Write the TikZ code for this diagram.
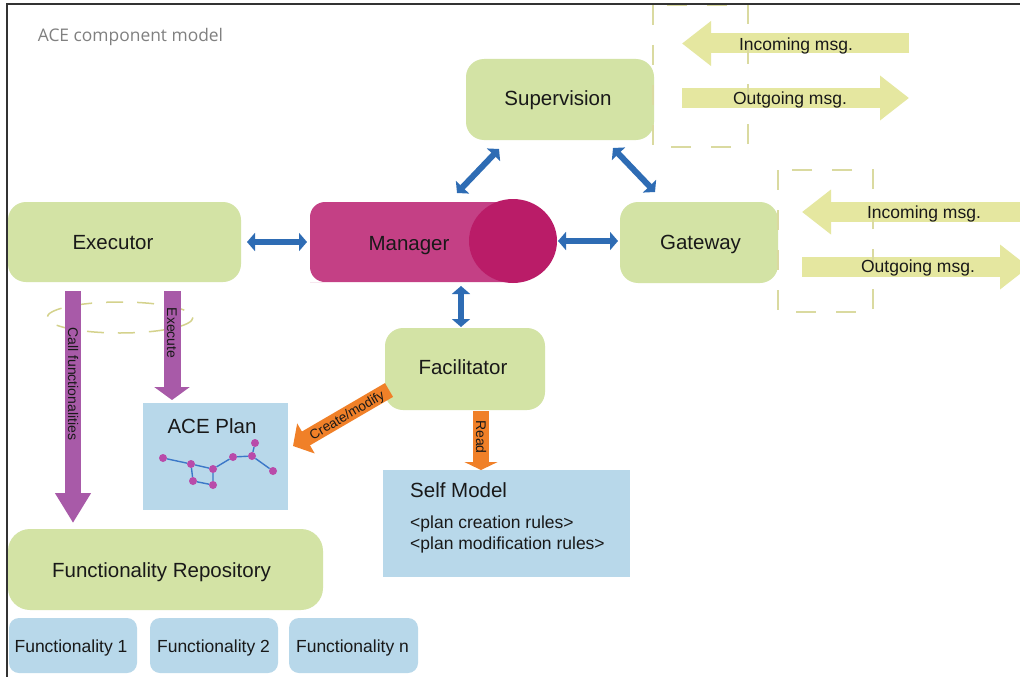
\documentclass[tikz,border=0pt]{standalone}
\usepackage{fontspec}
\setmainfont{Liberation Sans}
\newfontfamily\titlefont{Open Sans}
\usetikzlibrary{arrows.meta,calc}
\definecolor{gfill}{RGB}{211,227,165}
\definecolor{bfill}{RGB}{184,216,234}
\definecolor{barrowc}{RGB}{46,108,180}
\definecolor{mgpink}{RGB}{196,64,133}
\definecolor{mgdark}{RGB}{186,28,104}
\definecolor{purp}{RGB}{168,90,168}
\definecolor{orng}{RGB}{240,128,40}
\definecolor{yell}{RGB}{229,231,160}
\definecolor{dashc}{RGB}{218,218,160}
\definecolor{ellc}{RGB}{212,210,140}
\definecolor{txt}{RGB}{25,25,25}
\definecolor{dotc}{RGB}{185,75,170}
\definecolor{edgec}{RGB}{60,120,200}
\begin{document}
\begin{tikzpicture}[x=1pt,y=-1pt,
  gbox/.style={fill=gfill, rounded corners=18pt, inner sep=0pt, outer sep=0pt},
  fbox/.style={fill=bfill, rounded corners=10pt, inner sep=0pt, outer sep=0pt},
  pbox/.style={fill=bfill, inner sep=0pt, outer sep=0pt},
  lbl/.style={font=\fontsize{20.5}{24}\selectfont, text=txt, inner sep=0pt, text height=14.8pt, text depth=0pt},
  mlbl/.style={font=\fontsize{17.5}{21}\selectfont, text=txt, inner sep=0pt, text height=12.6pt, text depth=0pt},
  slbl/.style={font=\fontsize{14}{17}\selectfont, text=txt, inner sep=0pt, text height=10pt, text depth=0pt},
  barrow/.style={draw=barrowc, line width=6pt, {Triangle[length=8pt,width=18pt]}-{Triangle[length=8pt,width=18pt]}},
  parrow/.style={draw=purp, line width=16.5pt},
  oarrow/.style={draw=orng, line width=15.5pt},
  yarrow/.style={draw=yell, line width=20pt, -{Triangle[length=29pt,width=43pt]}},
  dbox/.style={draw=dashc, line width=1.5pt, dash pattern=on 20pt off 20pt},
  gdot/.style={circle, fill=dotc, inner sep=0pt, minimum size=8pt},
  gedge/.style={draw=edgec, line width=1.4pt}
]
\useasboundingbox (0,0) rectangle (1020,677);
\clip (0,0) rectangle (1020,677);
\fill[white] (0,0) rectangle (1020,677);

% title
\node[font=\titlefont\fontsize{17.4}{20}\selectfont, text=black!50, inner sep=0pt, text height=12.4pt, text depth=0pt] (title) at (130.5,35.5) {ACE component model};

% yellow message arrows
\coordinate (si1) at (909,43.5); \coordinate (si2) at (682,43.5);
\coordinate (so1) at (682,98);   \coordinate (so2) at (909,98);
\coordinate (gi1) at (1032,212); \coordinate (gi2) at (802,212);
\coordinate (go1) at (802,267);  \coordinate (go2) at (1029,267);
\draw[yarrow] (si1) -- (si2);
\draw[yarrow] (so1) -- (so2);
\draw[yarrow] (gi1) -- (gi2);
\draw[yarrow] (go1) -- (go2);

% boxes
\node[gbox, minimum width=188pt, minimum height=81pt] (sup) at (560,99.5) {};
\node[gbox, minimum width=233pt, minimum height=80pt] (exec) at (124.5,242) {};
\node[gbox, minimum width=158pt, minimum height=81pt] (gate) at (699,242.5) {};
\node[gbox, minimum width=160pt, minimum height=82pt] (fac) at (465,369) {};
\node[gbox, rounded corners=22pt, minimum width=315pt, minimum height=81pt] (repo) at (165.5,569.5) {};
\node[fbox, minimum width=128pt, minimum height=55pt] (f1) at (73,645.5) {};
\node[fbox, minimum width=128pt, minimum height=55pt] (f2) at (214,645.5) {};
\node[fbox, minimum width=129pt, minimum height=55pt] (fn) at (353.5,645.5) {};
\node[pbox, minimum width=145pt, minimum height=107pt] (plan) at (215.5,456.5) {};
\node[pbox, minimum width=247pt, minimum height=107pt] (self) at (506.5,523.5) {};

% manager
\node[inner sep=0pt, outer sep=0pt, minimum width=247pt, minimum height=84pt] (mgr) at (433.5,241) {};
\fill[mgpink] (513,202) -- (325,202) [rounded corners=15pt] -- (310,202) -- (310,282) -- (325,282) [sharp corners] -- (513,282) -- cycle;
\fill[mgdark] (513,241) ellipse [x radius=44, y radius=42];

% dashed boxes
\draw[dbox] (653,5) rectangle (748,147);
\draw[dbox] (778,170) rectangle (873,312);

% labels
\node[mlbl] (tsi) at (796,44) {Incoming msg.};
\node[mlbl] (tso) at (790,98) {Outgoing msg.};
\node[mlbl] (tgi) at (924,212) {Incoming msg.};
\node[mlbl] (tgo) at (918,266) {Outgoing msg.};
\node[lbl] (tsup) at (558,98) {Supervision};
\node[lbl] (texec) at (113,242.5) {Executor};
\node[lbl] (tmgr) at (409,243) {Manager};
\node[lbl] (tgate) at (700.5,242.5) {Gateway};
\node[lbl] (tfac) at (463,367.5) {Facilitator};
\node[lbl] (tplan) at (212,426) {ACE Plan};
\node[lbl] (trepo) at (161.5,570) {Functionality Repository};
\node[mlbl] (tf1) at (71,646) {Functionality 1};
\node[mlbl] (tf2) at (213.5,646) {Functionality 2};
\node[mlbl] (tfn) at (352.5,646) {Functionality n};
\node[font=\fontsize{20.5}{24}\selectfont, text=txt, inner sep=0pt, anchor=base west] (tself) at (410,497.5) {Self Model};
\node[font=\fontsize{17.5}{21}\selectfont, text=txt, inner sep=0pt, anchor=base west] (tr1) at (410,528) {<plan creation rules>};
\node[font=\fontsize{17.5}{21}\selectfont, text=txt, inner sep=0pt, anchor=base west] (tr2) at (410,549) {<plan modification rules>};

% dashed ellipse
\draw[draw=ellc, line width=1.5pt, dash pattern=on 17pt off 14pt] (120,317.5) ellipse [x radius=73, y radius=15.5];

% blue connectors
\draw[barrow, shorten <=6pt, shorten >=3pt] (exec.east) -- (mgr.west |- exec.east);
\draw[barrow, shorten <=1pt, shorten >=2pt] (mgr.east) -- (gate.west |- mgr.east);
\draw[barrow] ($(mgr.north)+(23.5,-6)$) -- ($(sup.south)+(-61,9)$);
\draw[barrow] ($(sup.south)+(53,8)$) -- ($(gate.north)+(-44,-10)$);
\draw[barrow] ($(mgr.south)+(27.5,3)$) -- ($(fac.north)+(-4,-1)$);

% purple connectors
\draw[parrow, -{Triangle[length=30pt,width=34pt]}] ($(exec.south)+(-51.5,9)$) -- ($(repo.north)+(-92.5,-6)$)
  node[slbl, pos=0.40, sloped] {Call functionalities};
\draw[parrow, line width=17pt, -{Triangle[length=13pt,width=35pt]}] ($(exec.south)+(47.5,9)$) -- ($(plan.north)+(-43.5,-3)$)
  node[slbl, pos=0.385, sloped] {Execute};

% orange connectors
\draw[oarrow, -{Triangle[length=8pt,width=33pt]}] ($(fac.south)+(16,1)$) -- ($(self.north)+(-25.5,0)$)
  node[slbl, pos=0.44, sloped] {Read};
\draw[oarrow, line width=16pt, -{Triangle[length=15pt,width=34pt]}] ($(fac.west)+(4,21)$) -- ($(plan.east)+(5,-10.5)$)
  node[slbl, font=\fontsize{13.5}{16}\selectfont, pos=0.44, sloped] {Create/modify};

% plan graph
\node[gdot] (g1) at (163,458) {};
\node[gdot] (g2) at (191,464) {};
\node[gdot] (g3) at (213,469) {};
\node[gdot] (g4) at (193,481) {};
\node[gdot] (g5) at (213,485) {};
\node[gdot] (g6) at (233,457) {};
\node[gdot] (g7) at (252,456) {};
\node[gdot] (g8) at (255,443) {};
\node[gdot] (g9) at (273,471) {};
\draw[gedge] (g1) -- (g2) (g2) -- (g3) (g2) -- (g4) (g4) -- (g5) (g5) -- (g3)
  (g3) -- (g6) (g6) -- (g7) (g7) -- (g8) (g7) -- (g9);

% frame
\coordinate (fr1) at (7,677); \coordinate (fr2) at (7,4); \coordinate (fr3) at (1020,4);
\draw[line width=1.8pt, black!80] (fr1) -- (fr2) -- (fr3);
\end{tikzpicture}
\end{document}
